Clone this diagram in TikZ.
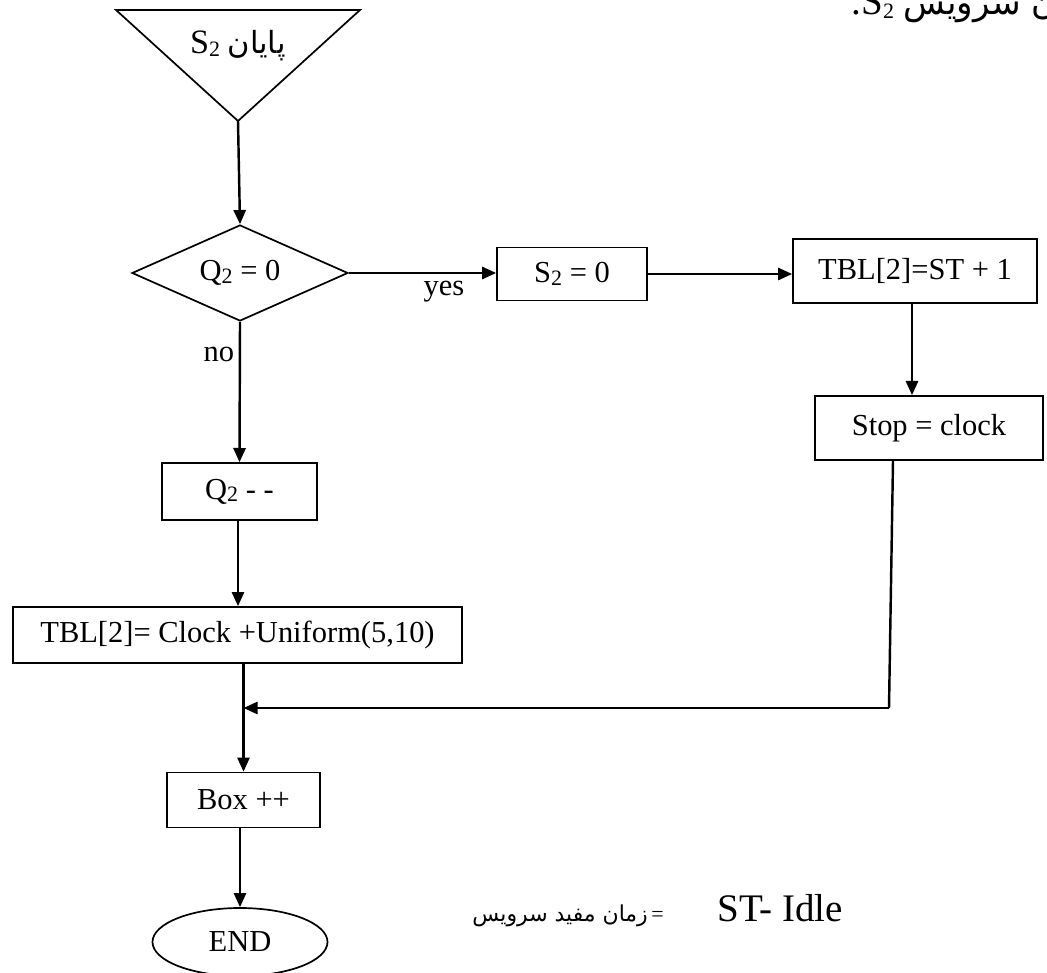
\documentclass[tikz,border=0pt]{standalone}
\usepackage{fontspec}
\setmainfont{Liberation Serif}
\newfontfamily\fa[Script=Arabic]{DejaVu Sans}
\TeXXeTstate=1
\usetikzlibrary{arrows.meta,shapes.geometric}
\newcommand\pxu{0.41pt}
\newcommand\idx[1]{\raisebox{-0.2ex}{\fontsize{9}{10}\selectfont #1}}
\begin{document}
\begin{tikzpicture}[x=0.41pt,y=-0.41pt,
  font=\fontsize{12.5}{14}\selectfont,
  procbox/.style={draw,line width=0.7pt,rectangle,inner sep=0pt,
    minimum width=#1},
  flow/.style={line width=1pt,-{Triangle[length=5.8pt,width=5pt]}},
  plainline/.style={line width=1pt}]
\useasboundingbox (0,0) rectangle (1047,973);
\clip (0,0) rectangle (1047,973);

% entry: end of service at server 2
\draw[line width=0.7pt] (116,10) -- (360,10) -- (238,121) -- cycle;
\coordinate (apex) at (238,121);
\node (trilabel) at (238,46) {{\fontsize{14}{16}\selectfont S}\idx{2} {\fa\beginR پایان\endR}};

% header text, running past the right margin
\node[anchor=base west,font=\fontsize{16}{18}\selectfont] (title) at (843,15)
  {.S\idx{2} {\fontsize{14}{16}\fa\beginR پایان سرویس\endR}};

% decision
\node[draw,line width=0.7pt,diamond,aspect=2.25,inner sep=0pt,
  minimum width=216*\pxu,minimum height=96*\pxu] (dec) at (240,273) {Q\idx{2} = 0};

% yes branch
\node[procbox=150*\pxu,minimum height=53*\pxu] (s2) at (572,274) {S\idx{2} = 0};
\node[procbox=244*\pxu,minimum height=64*\pxu] (tblst) at (915,271) {TBL[2]=ST + 1};
\node[procbox=228*\pxu,minimum height=64*\pxu] (stop) at (929,428) {Stop = clock};

% no branch
\node[procbox=155*\pxu,minimum height=57*\pxu] (q2) at (239.5,491.5) {Q\idx{2} - -};
\node[procbox=449*\pxu,minimum height=56*\pxu] (tblclk) at (237.5,635) {TBL[2]= Clock +Uniform(5,10)};

% common tail
\node[procbox=153*\pxu,minimum height=55*\pxu] (box) at (243.5,800) {Box ++};
\node[draw,line width=0.7pt,ellipse,inner sep=0pt,
  minimum width=175*\pxu,minimum height=68*\pxu] (end) at (240,942) {END};

% labels
\node[anchor=base] (yes) at (444,296) {yes};
\node[anchor=base east,inner sep=1pt] (no) at (237,362) {no};

% definition of useful service time
\node[anchor=base west,inner sep=0pt,font=\fontsize{9}{11}\selectfont] (deffa) at (472,921)
  {{\fa\beginR زمان مفید سرویس\endR}\,=};
\node[anchor=base west,inner sep=0pt,font=\fontsize{16}{18}\selectfont] (defst) at (717,921) {ST- Idle};

% connectors
\draw[flow] (apex) -- (dec.north);
\draw[flow] (dec.east) -- (s2.west |- dec.east);
\draw[flow] (s2.east) -- (s2.east -| tblst.west);
\draw[flow] (tblst.south -| 912,0) -- (912,0 |- stop.north);
\coordinate (stopout) at (893,0 |- stop.south);
\coordinate (corner) at (889,708);
\draw[plainline] (stopout) -- (corner);
\draw[flow] (corner) -- (corner -| box.north);
\draw[flow] (dec.south) -- (q2.north);
\draw[flow] (q2.south -| 238,0) -- (238,0 |- tblclk.north);
\draw[flow] (tblclk.south -| box.north) -- (box.north);
\draw[flow] (box.south -| end.north) -- (end.north);
\end{tikzpicture}
\end{document}
